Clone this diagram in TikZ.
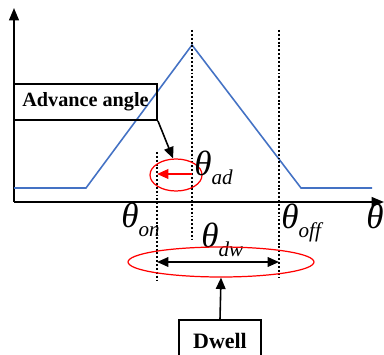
\documentclass[tikz,border=0pt]{standalone}
\usepackage{fontspec}
\setmainfont{Liberation Serif}
\usepackage{tikz}
\usetikzlibrary{positioning, arrows.meta, shapes.geometric, calc}
\definecolor{Curve}{HTML}{4472C4}
\definecolor{Ring}{HTML}{FF0000}
\definecolor{Ink}{HTML}{000000}

\newcommand{\angsub}[1]{\itshape{\fontsize{20}{22}\selectfont θ}\raisebox{-5.6pt}{\fontsize{12}{14}\selectfont #1}}

\begin{document}
\begin{tikzpicture}[
    x=0.02cm, y=-0.02cm,
    every node/.style={inner sep=0pt, text=Ink},
    axis/.style={line width=1.1pt, -{Triangle[length=7pt, width=5.5pt]}},
    guide/.style={line width=0.7pt, dash pattern=on 1.1pt off 1.1pt},
    tagbox/.style={draw, line width=1.1pt, rectangle, font=\bfseries},
    ring/.style={draw=Ring, ellipse, line width=0.7pt}
]
\useasboundingbox (0,0) rectangle (384,354);

% === Axes ===
\coordinate (O) at (14,202);
\coordinate (ytip) at (14,8);
\coordinate (xtip) at (384,202);
\draw[axis] (O) -- (ytip);
\draw[axis] (O) -- (xtip);

% Trapezoid-like curve
\draw[Curve, line width=0.9pt]
    (14,188) -- (86,188) -- (192,45) -- (301,188) -- (372,188);

% Switching angles (dotted guides)
\coordinate (on) at (157,152);
\coordinate (onb) at (157,280);
\coordinate (pk) at (192,30);
\coordinate (pkb) at (192,240);
\coordinate (off) at (279,30);
\coordinate (offb) at (279,278);
\draw[guide] (on) -- (onb);
\draw[guide] (pk) -- (pkb);
\draw[guide] (off) -- (offb);

% === Advance angle ===
\node[tagbox, minimum width=2.86cm, minimum height=0.72cm,
      font=\fontsize{11.5}{13}\selectfont\bfseries] (adv) at (85.5,102) {Advance angle};
\node[ring, minimum width=1.04cm, minimum height=0.64cm] (adring) at (176,175) {};
\draw[line width=0.9pt, -{Triangle[length=6.5pt, width=5.5pt]}] (adv.south east) -- (adring.100);
\coordinate (adr) at (192,174);
\coordinate (adl) at (157,174);
\draw[Ring, line width=1pt, -{Triangle[length=6.5pt, width=5.5pt]}] (adr) -- (adl);
\node[anchor=base west] (thad) at (194,175) {\angsub{ad}};

% Axis labels
\node[anchor=base west] (thon) at (121,227) {\angsub{on}};
\node[anchor=base west] (thoff) at (281,228) {\angsub{off}};
\node[anchor=base west, font=\fontsize{20}{22}\selectfont\itshape] (th) at (366,228) {θ};

% === Dwell ===
\node[anchor=base west] (thdw) at (201,247) {\angsub{dw}};
\node[ring, minimum width=3.72cm, minimum height=0.6cm] (dwring) at (221,262) {};
\draw[line width=0.9pt, {Triangle[length=6.5pt, width=5.5pt]}-{Triangle[length=6.5pt, width=5.5pt]}]
    (onb |- dwring) -- (offb |- dwring);
\node[tagbox, minimum width=1.64cm, minimum height=0.84cm,
      font=\fontsize{12.5}{14}\selectfont\bfseries] (dwell) at (220,341) {Dwell};
\draw[line width=0.9pt, -{Triangle[length=6.5pt, width=5.5pt]}] (dwell.north) -- (dwring.south);

\end{tikzpicture}
\end{document}
